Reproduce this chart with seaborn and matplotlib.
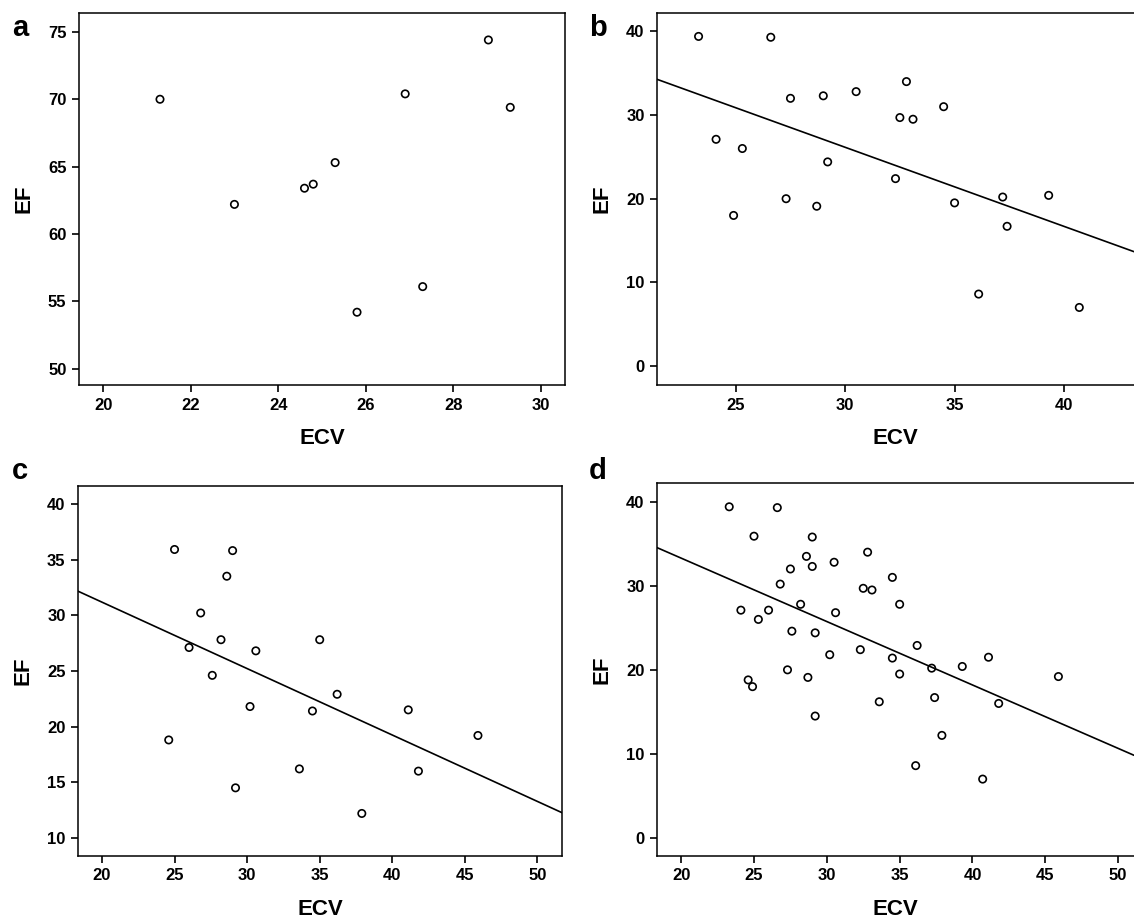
import numpy as np
import pandas as pd
import matplotlib
matplotlib.use("Agg")
import matplotlib.pyplot as plt
import seaborn as sns

# panel a
ecv_a = [21.3, 23.0, 24.6, 24.8, 25.3, 25.8, 26.9, 27.3, 28.8, 29.3]
ef_a = [70.0, 62.2, 63.4, 63.7, 65.3, 54.2, 70.4, 56.1, 74.4, 69.4]

# panel b
ecv_b = [23.3, 26.6, 24.1, 25.3, 24.9, 27.5, 27.3, 29.0, 29.2, 28.7, 30.5,
         32.8, 32.5, 33.1, 32.3, 34.5, 35.0, 36.1, 37.2, 37.4, 39.3, 40.7]
ef_b = [39.4, 39.3, 27.1, 26.0, 18.0, 32.0, 20.0, 32.3, 24.4, 19.1, 32.8,
        34.0, 29.7, 29.5, 22.4, 31.0, 19.5, 8.6, 20.2, 16.7, 20.4, 7.0]

# panel c
ecv_c = [25.0, 29.0, 28.6, 26.8, 28.2, 26.0, 30.6, 35.0, 27.6, 36.2,
         30.2, 34.5, 41.1, 24.6, 45.9, 33.6, 41.8, 29.2, 37.9]
ef_c = [35.9, 35.8, 33.5, 30.2, 27.8, 27.1, 26.8, 27.8, 24.6, 22.9,
        21.8, 21.4, 21.5, 18.8, 19.2, 16.2, 16.0, 14.5, 12.2]

# panel d = b and c pooled
ecv_d = ecv_b + ecv_c
ef_d = ef_b + ef_c

W, H = 1134, 918
sns.set_style("ticks")
plt.rcParams["font.family"] = ["Liberation Sans", "DejaVu Sans"]
plt.rcParams.update({
    "axes.linewidth": 1.1,
    "axes.edgecolor": "black",
    "axes.labelcolor": "black",
    "text.color": "black",
    "xtick.color": "black",
    "ytick.color": "black",
})

fig = plt.figure(figsize=(W / 100, H / 100), dpi=100)


def px_axes(left, top, right, bottom):
    return fig.add_axes([left / W, 1 - bottom / H, (right - left) / W, (bottom - top) / H])


panels = [
    dict(letter="a", x=ecv_a, y=ef_a, fit=False, box=(79, 13, 565, 385),
         xlim=(19.45, 30.55), ylim=(48.8, 76.4), xt=np.arange(20, 31, 2), yt=np.arange(50, 76, 5),
         lpos=(12, 36)),
    dict(letter="b", x=ecv_b, y=ef_b, fit=True, box=(657, 13, 1134, 385),
         xlim=(21.4, 43.2), ylim=(-2.27, 42.2), xt=np.arange(25, 41, 5), yt=np.arange(0, 41, 10),
         lpos=(589, 36)),
    dict(letter="c", x=ecv_c, y=ef_c, fit=True, box=(78, 486, 562, 856),
         xlim=(18.35, 51.69), ylim=(8.38, 41.6), xt=np.arange(20, 51, 5), yt=np.arange(10, 41, 5),
         lpos=(12, 479)),
    dict(letter="d", x=ecv_d, y=ef_d, fit=True, box=(657, 483, 1134, 856),
         xlim=(18.34, 51.09), ylim=(-2.15, 42.23), xt=np.arange(20, 51, 5), yt=np.arange(0, 41, 10),
         lpos=(589, 479)),
]

for p in panels:
    ax = px_axes(*p["box"])
    ax.set_xlim(*p["xlim"])
    ax.set_ylim(*p["ylim"])
    df = pd.DataFrame({"ECV": p["x"], "EF": p["y"]})
    scatter_kws = dict(s=28, facecolors="none", edgecolors="black", linewidths=1.2, alpha=1)
    if p["fit"]:
        sns.regplot(data=df, x="ECV", y="EF", ax=ax, ci=None, truncate=False,
                    scatter_kws=scatter_kws, line_kws=dict(color="black", lw=1.2))
    else:
        sns.scatterplot(data=df, x="ECV", y="EF", ax=ax, **scatter_kws)
    ax.set_xlim(*p["xlim"])
    ax.set_ylim(*p["ylim"])
    ax.set_xticks(p["xt"])
    ax.set_yticks(p["yt"])
    ax.tick_params(direction="out", length=5, width=1.2, labelsize=12, pad=4)
    for lab in ax.get_xticklabels() + ax.get_yticklabels():
        lab.set_fontweight("bold")
    ax.set_xlabel("ECV", fontsize=16, fontweight="bold", labelpad=11)
    ax.set_ylabel("EF", fontsize=16, fontweight="bold", labelpad=10)
    if p["box"][2] >= W:
        ax.spines["right"].set_visible(False)
    fig.text(p["lpos"][0] / W, 1 - p["lpos"][1] / H, p["letter"], fontsize=21,
             fontweight="bold", ha="left", va="baseline")

fig.savefig("out.png", dpi=100)
